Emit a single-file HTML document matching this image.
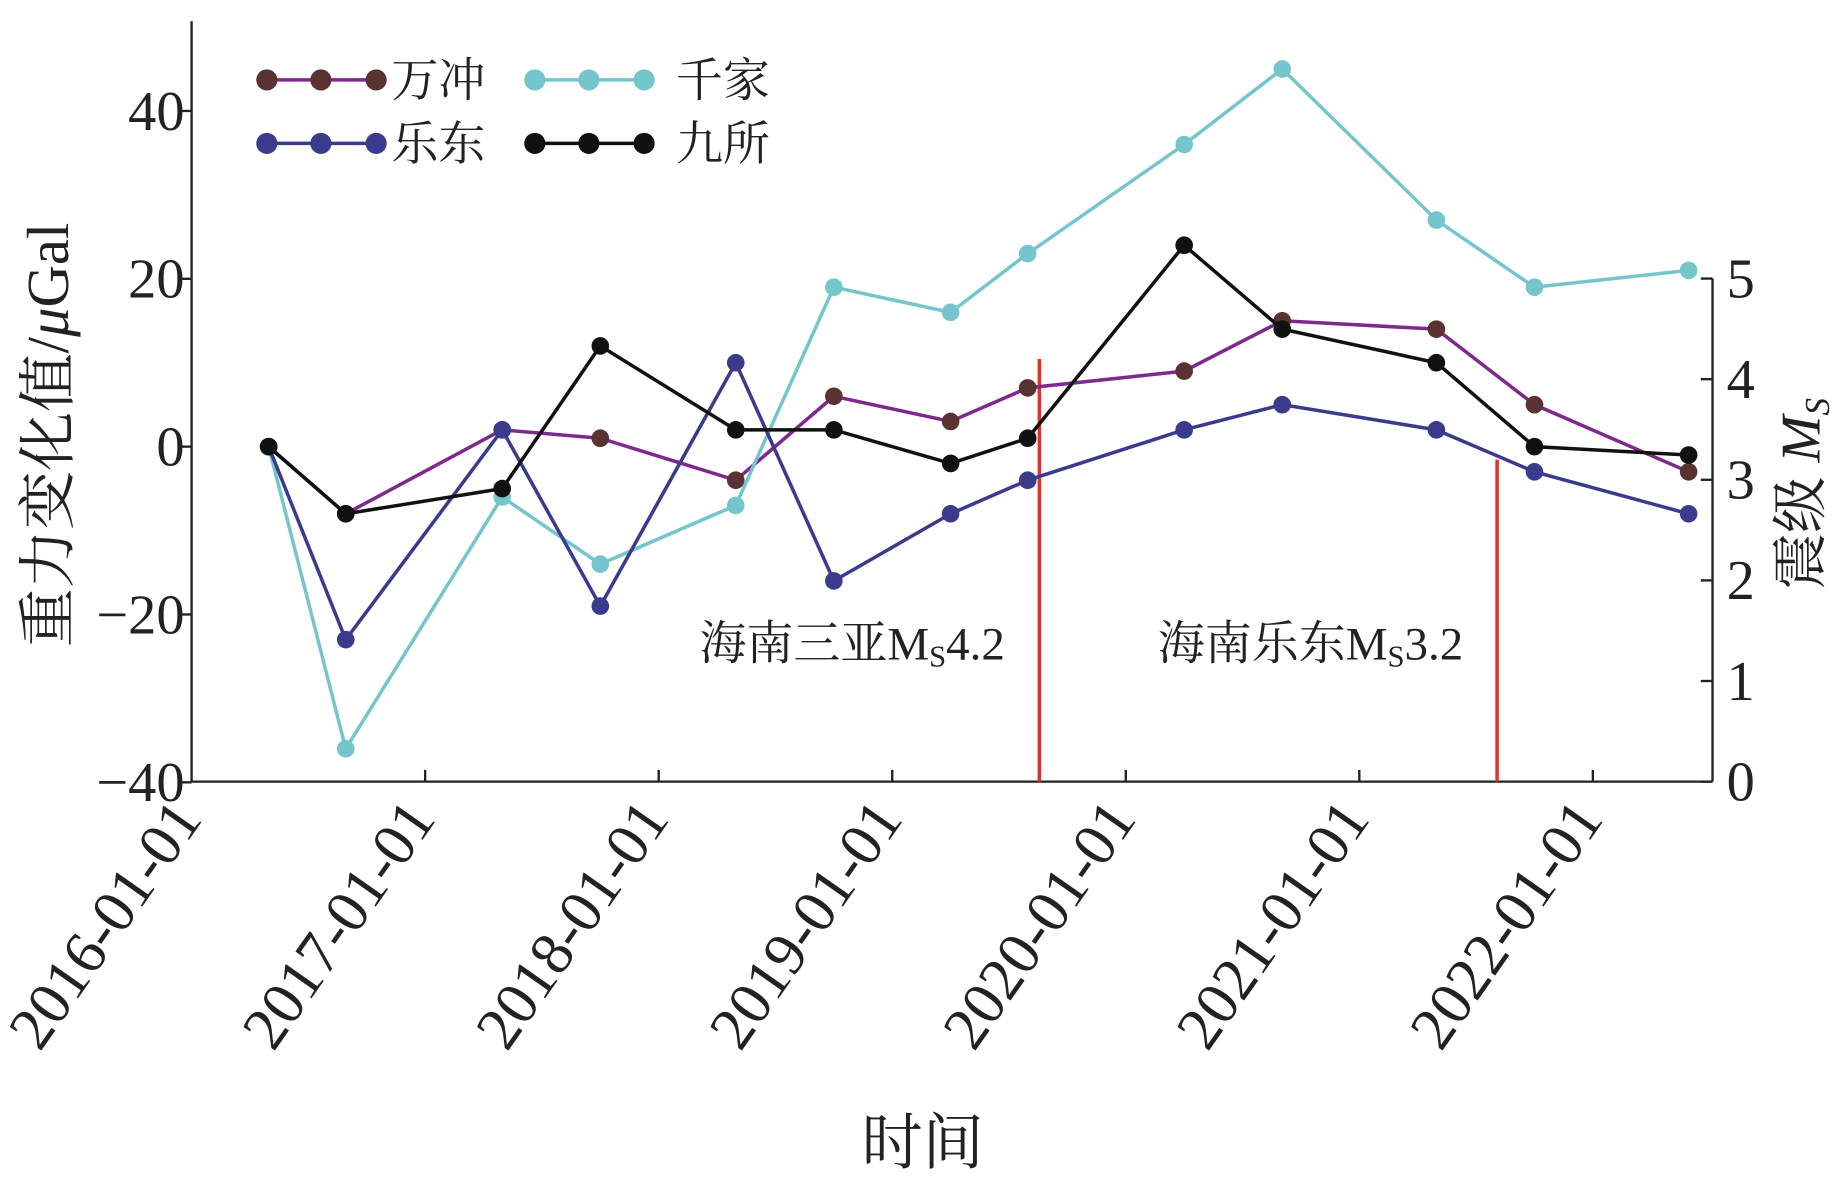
<!DOCTYPE html>
<html><head><meta charset="utf-8"><style>
html,body{margin:0;padding:0;background:#fff;}
svg{display:block;}
text{font-family:"Liberation Serif","Noto Serif CJK SC",serif;fill:#222;}
</style></head><body>
<svg id="chart" width="1843" height="1181" viewBox="0 0 1568 1004.8" xmlns="http://www.w3.org/2000/svg"></svg>
<script>
const dates=[2016.33,2016.66,2017.33,2017.75,2018.33,2018.75,2019.25,2019.58,2020.25,2020.67,2021.33,2021.75,2022.41];
const wanchong=[0,-8,2,1,-4,6,3,7,9,15,14,5,-3];
const qianjia=[0,-36,-6,-14,-7,19,16,23,36,45,27,19,21];
const ledong=[0,-23,2,-19,10,-16,-8,-4,2,5,2,-3,-8];
const jiusuo=[0,-8,-5,12,2,2,-2,1,24,14,10,0,-1];
const yTicks=[-40,-20,0,20,40];
const msTicks=[0,1,2,3,4,5];
const xTickYears=[2016,2017,2018,2019,2020,2021,2022];
const quakeDates=[2019.63,2021.59];
const quakeMs=[4.2,3.2];

const NS="http://www.w3.org/2000/svg";
const svg=document.getElementById('chart');
const L=163,R=1457,B=665,T=18;
const X=d=>L+(d-2016)*198.7;
const Y=v=>380-v*7.14;
const YM=m=>B-m*85.6;
function el(tag,attrs,parent){const e=document.createElementNS(NS,tag);for(const k in attrs)e.setAttribute(k,attrs[k]);(parent||svg).appendChild(e);return e;}

let a=el('line',{x1:L,y1:T,x2:L,y2:B,stroke:'#222','stroke-width':2});


a=el('line',{x1:L,y1:B,x2:R,y2:B,stroke:'#222','stroke-width':2});


a=el('line',{x1:R,y1:237,x2:R,y2:B,stroke:'#222','stroke-width':2});



yTicks.forEach(v=>{
  el('line',{x1:L-10,y1:Y(v),x2:L,y2:Y(v),stroke:'#222','stroke-width':2});
  const t=el('text',{x:L-6,y:Y(v)+16,'text-anchor':'end','font-size':48});
  t.textContent=(v<0?'\u2212':'')+Math.abs(v);
  
  
});
msTicks.forEach(m=>{
  el('line',{x1:R-10,y1:YM(m),x2:R,y2:YM(m),stroke:'#222','stroke-width':2});
  const t=el('text',{x:R+12,y:YM(m)+16,'font-size':48});
  t.textContent=m;
  
  
});
xTickYears.forEach(yr=>{
  const x=X(yr);
  if(yr>2016)el('line',{x1:x,y1:B-10,x2:x,y2:B,stroke:'#222','stroke-width':2});
  const t=el('text',{x:x+10,y:B+32,'text-anchor':'end','font-size':52,transform:`rotate(-55 ${x+10} ${B+32})`});
  t.textContent=yr+'-01-01';
  
  
});

quakeDates.forEach((d,i)=>{
  const ln=el('line',{x1:X(d),y1:YM(quakeMs[i]),x2:X(d),y2:B,stroke:'#e8302a','stroke-width':3});
  
  
});
[[595,'海南三亚','4.2'],[985,'海南乐东','3.2']].forEach(([x,lab,m])=>{
  const t=el('text',{x:x,y:561,'font-size':40});
  t.innerHTML=lab+'M<tspan font-size="26" dy="6">S</tspan><tspan dy="-6">'+m+'</tspan>';
  
  
});

const series=[
 {name:'wanchong',vals:wanchong,line:'#7d2a8c',dot:'#5a3232'},
 {name:'qianjia',vals:qianjia,line:'#74c6cc',dot:'#74c6cc'},
 {name:'ledong',vals:ledong,line:'#3b3b8e',dot:'#3b3b8e'},
 {name:'jiusuo',vals:jiusuo,line:'#111',dot:'#111'}
];
series.forEach(s=>{
  const g=el('g',{});
  
  
  el('polyline',{points:s.vals.map((v,i)=>X(dates[i])+','+Y(v)).join(' '),fill:'none',stroke:s.line,'stroke-width':3},g);
  s.vals.forEach((v,i)=>{
    const c=el('circle',{cx:X(dates[i]),cy:Y(v),r:7.5,fill:s.dot},g);
    
    
  });
});

[[227,68,'#7d2a8c','#5a3232','万冲',333],[455,68,'#74c6cc','#74c6cc','千家',575],[227,122,'#3b3b8e','#3b3b8e','乐东',333],[455,122,'#111','#111','九所',575]].forEach(([x,y,lc,dc,lab,tx])=>{
  const g=el('g',{});
  
  
  el('line',{x1:x,y1:y,x2:x+93,y2:y,stroke:lc,'stroke-width':3},g);
  [0,46,93].forEach(o=>el('circle',{cx:x+o,cy:y,r:9,fill:dc},g));
  const t=el('text',{x:tx,y:y+14,'font-size':40},g);
  t.textContent=lab;
});

let t=el('text',{x:0,y:0,'font-size':50,'text-anchor':'middle',transform:'translate(58 370) rotate(-90)'});
t.innerHTML='重力变化值/<tspan font-style="italic">μ</tspan>Gal';


t=el('text',{x:0,y:0,'font-size':48,'text-anchor':'middle',transform:'translate(1548 420) rotate(-90)'});
t.innerHTML='震级 <tspan font-style="italic">M</tspan><tspan font-style="italic" font-size="30" dy="8">S</tspan>';


t=el('text',{x:785,y:990,'font-size':52,'text-anchor':'middle'});
t.textContent='时间';


</script>
</body></html>
